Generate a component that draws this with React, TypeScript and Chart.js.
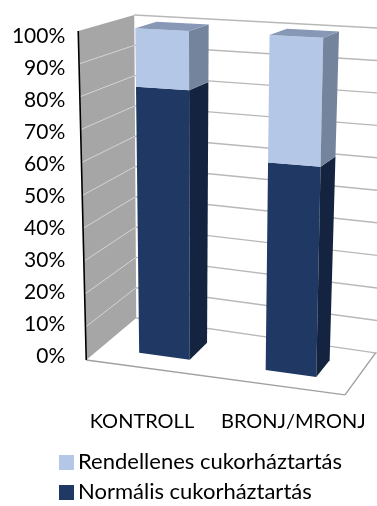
import { useEffect, useRef } from 'react';
import { Chart, registerables } from 'chart.js';

Chart.register(...registerables);

const categories = ['KONTROLL', 'BRONJ/MRONJ'];
const normalValues = [82, 62];
const abnormalValues = [18, 38];
const seriesNames = ['Normális cukorháztartás', 'Rendellenes cukorháztartás'];
const yTickLabels = ['0%', '10%', '20%', '30%', '40%', '50%', '60%', '70%', '80%', '90%', '100%'];

const FONT = 'Lato, "DejaVu Sans", sans-serif';
const NAVY = '#1F3864';
const NAVY_SIDE = '#14233F';
const NAVY_TOP = '#2B4676';
const LIGHT = '#B4C7E7';
const LIGHT_SIDE = '#74849C';
const LIGHT_TOP = '#8698B6';
const WALL = '#A6A6A6';
const WALL_GRID = '#D4D4D4';
const GRID = '#B8B8B8';
const FLOOR = '#A0A0A0';

const faceColors = [
  { front: NAVY, side: NAVY_SIDE, top: NAVY_TOP },
  { front: LIGHT, side: LIGHT_SIDE, top: LIGHT_TOP },
];

function swatch(color: string) {
  const c = document.createElement('canvas');
  c.width = 15;
  c.height = 15;
  const g = c.getContext('2d')!;
  g.fillStyle = color;
  g.fillRect(0, 0, 15, 15);
  return c;
}

const threeD = {
  id: 'threeD',
  beforeDatasetsDraw(chart: any) {
    const { ctx, chartArea: ca } = chart;
    const yScale = chart.scales.y;
    const W = ca.right - ca.left;
    const H = ca.bottom - ca.top;
    const fl = ca.left + 20;
    const fr = ca.right - 24;
    const yb = ca.bottom + 4;
    const yt = ca.top - 5;
    const xc = fl + 0.516 * (fr - fl);
    const proj = (u: number, t: number, w: number): [number, number] => {
      const s = fl + (fr - fl) * u;
      const lean = 0.06 * t * (s - xc);
      const dx = (53 + 6 * (t - 0.5) - 0.075 * (s - fl)) * w;
      const slope = 0.135 + (0.053 - 0.135) * t;
      const y = yb - (yb - yt) * t + slope * (s - fl) + (-42 + 26 * t) * w;
      return [s + lean + dx, y];
    };
    const poly = (pts: [number, number][], fill: string) => {
      ctx.beginPath();
      ctx.moveTo(pts[0][0], pts[0][1]);
      for (let i = 1; i < pts.length; i++) ctx.lineTo(pts[i][0], pts[i][1]);
      ctx.closePath();
      ctx.fillStyle = fill;
      ctx.fill();
    };
    const line = (a: [number, number], b: [number, number], color: string, lw: number) => {
      ctx.beginPath();
      ctx.moveTo(a[0], a[1]);
      ctx.lineTo(b[0], b[1]);
      ctx.strokeStyle = color;
      ctx.lineWidth = lw;
      ctx.stroke();
    };
    const tOf = (pix: number) => (ca.bottom - pix) / H;

    ctx.save();
    poly([proj(0, 0, 0), proj(0, 1, 0), proj(0, 1, 1), proj(0, 0, 1)], WALL);
    const ticks = yScale.ticks.map((tk: any) => tOf(yScale.getPixelForValue(tk.value)));
    ticks.forEach((t: number) => {
      if (t > 0.001 && t < 0.999) line(proj(0, t, 0), proj(0, t, 1), WALL_GRID, 1);
    });
    ticks.forEach((t: number) => {
      line(proj(0, t, 1), proj(1.3, t, 1), GRID, 1.4);
    });
    line(proj(0, 0, 0), proj(1, 0, 0), FLOOR, 1.4);
    line(proj(1, 0, 0), proj(1, 0, 1), FLOOR, 1.4);
    line(proj(0, 0, 0), proj(0, 1, 0), '#000000', 1.6);

    const w0 = 0.3;
    const w1 = 0.7;
    const nCat = chart.data.labels.length;
    const nDs = chart.data.datasets.length;
    for (let j = 0; j < nCat; j++) {
      for (let i = 0; i < nDs; i++) {
        const el = chart.getDatasetMeta(i).data[j];
        if (!el) continue;
        const p = el.getProps(['x', 'y', 'base', 'width'], true);
        const u0 = (p.x - p.width / 2 - ca.left) / W;
        const u1 = (p.x + p.width / 2 - ca.left) / W;
        const t0 = tOf(p.base);
        const t1 = tOf(p.y);
        const c = faceColors[i];
        poly([proj(u0, t0, w0), proj(u1, t0, w0), proj(u1, t1, w0), proj(u0, t1, w0)], c.front);
        poly([proj(u1, t0, w0), proj(u1, t0, w1), proj(u1, t1, w1), proj(u1, t1, w0)], c.side);
        if (i === nDs - 1) {
          poly([proj(u0, t1, w0), proj(u1, t1, w0), proj(u1, t1, w1), proj(u0, t1, w1)], c.top);
        }
      }
    }
    ctx.restore();
    return false;
  },
};

export default function App() {
  const ref = useRef<HTMLCanvasElement | null>(null);
  useEffect(() => {
    if (!ref.current) return;
    const chart = new Chart(ref.current, {
      type: 'bar',
      data: {
        labels: categories,
        datasets: [
          { label: seriesNames[0], data: normalValues, backgroundColor: NAVY },
          { label: seriesNames[1], data: abnormalValues, backgroundColor: LIGHT },
        ],
      },
      options: {
        responsive: true,
        maintainAspectRatio: false,
        animation: false,
        layout: { padding: { left: 57, right: 8, top: 36, bottom: 0 } },
        datasets: { bar: { barPercentage: 0.4, categoryPercentage: 1 } },
        scales: {
          x: {
            stacked: true,
            grid: { display: false, drawTicks: false },
            border: { display: false },
            ticks: { padding: 53.5, color: '#000', font: { family: FONT, size: 20 } },
            afterFit: (s: any) => {
              s.height = 87;
              s.paddingLeft = 0;
              s.paddingRight = 0;
            },
          },
          y: {
            stacked: true,
            min: 0,
            max: 100,
            grid: { display: false, drawTicks: false },
            border: { display: false },
            ticks: {
              stepSize: 10,
              padding: 1,
              color: '#000',
              font: { family: FONT, size: 21 },
              callback: (_v: any, i: number) => yTickLabels[i],
            },
            afterFit: (s: any) => {
              s.width = 9.25;
              s._computeLabelArea = () => undefined;
            },
          },
        },
        plugins: {
          tooltip: { enabled: false },
          legend: {
            position: 'bottom',
            align: 'start',
            labels: {
              usePointStyle: true,
              pointStyleWidth: 2,
              boxHeight: 15,
              padding: 8,
              color: '#000',
              font: { family: FONT, size: 22 },
              generateLabels: (ch: any) =>
                ch.data.datasets
                  .map((ds: any, i: number) => ({
                    text: ds.label,
                    fillStyle: ds.backgroundColor,
                    strokeStyle: ds.backgroundColor,
                    lineWidth: 0,
                    hidden: false,
                    datasetIndex: i,
                    pointStyle: swatch(ds.backgroundColor),
                  }))
                  .reverse(),
            },
          },
        },
      } as any,
      plugins: [threeD],
    });
    return () => chart.destroy();
  }, []);
  return (
    <div style={{ position: 'fixed', left: 0, top: 0, width: 377, height: 506, overflow: 'hidden', background: '#fff' }}>
      <div style={{ position: 'relative', width: 377, height: 513 }}>
        <canvas ref={ref} />
      </div>
    </div>
  );
}
